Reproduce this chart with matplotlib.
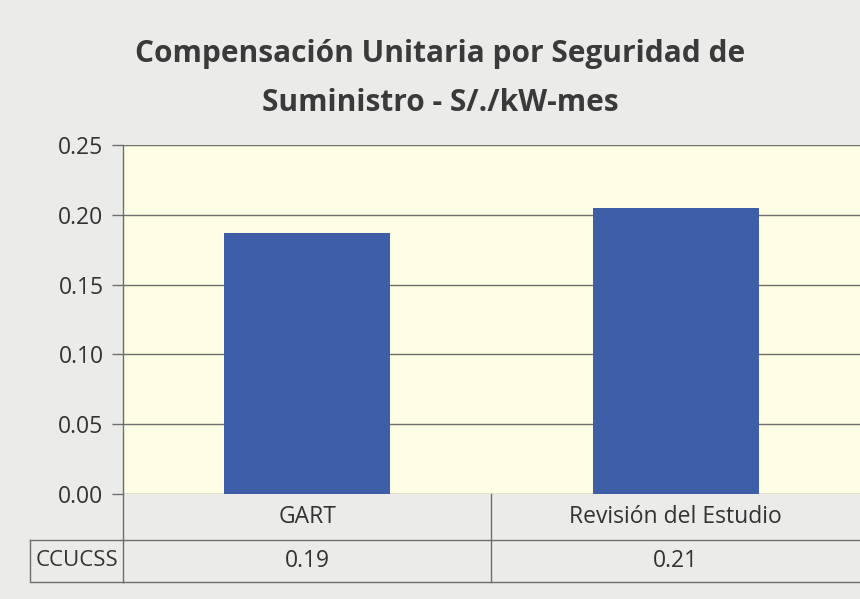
import numpy as np
import matplotlib.pyplot as plt
from matplotlib.transforms import blended_transform_factory

# data
categories = ["GART", "Revisión del Estudio"]
values = [0.187, 0.205]
row_label = "CCUCSS"
table_values = ["0.19", "0.21"]
yticks = [0.00, 0.05, 0.10, 0.15, 0.20, 0.25]

plt.rcParams['font.family'] = ['Open Sans', 'DejaVu Sans']

bg = "#ebebea"
plot_bg = "#fefee4"
bar_color = "#3e5fa8"
line_color = "#6e6e6e"
text_color = "#333333"

fig = plt.figure(figsize=(8.6, 5.99), dpi=100, facecolor=bg)
ax = fig.add_axes([0.143, 0.1753, 0.857, 0.5826])
ax.set_facecolor(plot_bg)

x = np.arange(len(categories))
ax.bar(x, values, width=0.45, color=bar_color, zorder=3)

ax.set_xlim(-0.5, 1.5)
ax.set_ylim(0, 0.25)
ax.set_yticks(yticks)
ax.set_yticklabels(["%.2f" % t for t in yticks], fontsize=16.5, color=text_color)
ax.set_xticks([])
ax.grid(axis="y", color=line_color, linewidth=1.0, zorder=1)
ax.tick_params(axis="y", length=8, width=1.0, color=line_color, pad=6)
for side in ["top", "right", "bottom"]:
    ax.spines[side].set_visible(False)
ax.spines["left"].set_color(line_color)
ax.spines["left"].set_linewidth(1.0)

# data table under the plot
tr = blended_transform_factory(ax.transData, ax.transAxes)
h_top, h_mid, h_bot = 0.0, -0.1318, -0.252
lw = 1.0
box_left = -0.126
# vertical lines
ax.plot([-0.5, -0.5], [h_top, h_bot], transform=tr, color=line_color, lw=lw, clip_on=False)
ax.plot([0.5, 0.5], [h_top, h_bot], transform=tr, color=line_color, lw=lw, clip_on=False)
# horizontal lines
ax.plot([-0.5, 1.5], [h_mid, h_mid], transform=tr, color=line_color, lw=lw, clip_on=False)
ax.plot([-0.5, 1.5], [h_bot, h_bot], transform=tr, color=line_color, lw=lw, clip_on=False)
# row label box on the left, in axes coords
ax.plot([box_left, 0], [h_mid, h_mid], transform=ax.transAxes,
        color=line_color, lw=lw, clip_on=False)
ax.plot([box_left, box_left, 0], [h_mid, h_bot, h_bot], transform=ax.transAxes,
        color=line_color, lw=lw, clip_on=False)

for i, cat in enumerate(categories):
    ax.text(i, (h_top + h_mid) / 2, cat, transform=tr, ha="center", va="center",
            fontsize=16.5, color=text_color)
    ax.text(i, (h_mid + h_bot) / 2, table_values[i], transform=tr, ha="center",
            va="center", fontsize=16.5, color=text_color)
ax.text(box_left / 2, (h_mid + h_bot) / 2, row_label, transform=ax.transAxes,
        ha="center", va="center", fontsize=16, color=text_color)

fig.text(0.512, 0.91, "Compensación Unitaria por Seguridad de", ha="center",
         va="center", fontsize=21.5, fontweight="bold", color="#3a3a3a")
fig.text(0.512, 0.828, "Suministro - S/./kW-mes", ha="center",
         va="center", fontsize=21.5, fontweight="bold", color="#3a3a3a")

fig.savefig("out.png", dpi=100, facecolor=bg)
